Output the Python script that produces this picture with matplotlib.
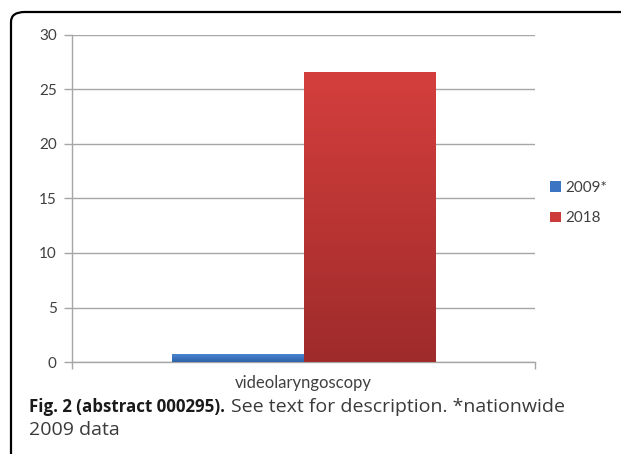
import numpy as np
import matplotlib
matplotlib.use("Agg")
import matplotlib.pyplot as plt
from matplotlib.patches import FancyBboxPatch
from matplotlib.colors import LinearSegmentedColormap

categories = ["videolaryngoscopy"]
series_names = ["2009*", "2018"]
values_2009 = [0.7]
values_2018 = [26.6]
yticks = [0, 5, 10, 15, 20, 25, 30]

W, H = 621, 454
fig = plt.figure(figsize=(W / 100, H / 100), dpi=100)
fig.patch.set_facecolor("white")

# outer frame with rounded top-left corner
frame = FancyBboxPatch((11 / W, -0.2), 1.2, 1.2 - 12 / H,
                       boxstyle="round,pad=0,rounding_size=0.022",
                       transform=fig.transFigure, fill=False,
                       edgecolor="black", linewidth=1.6, clip_on=False)
fig.patches.append(frame)

ax = fig.add_axes([72 / W, 92 / H, (535 - 72) / W, (362 - 35) / H])

bw = 0.285
x = np.arange(len(categories))
b1 = ax.bar(x - bw / 2, values_2009, width=bw, color="#3b74c2", zorder=3, linewidth=0)
b2 = ax.bar(x + bw / 2, values_2018, width=bw, color="#cc3b39", zorder=3, linewidth=0)

# vertical gradients on bars
grad_specs = [(b1, ["#4a84d0", "#2f62a8"]), (b2, ["#d43f3d", "#9f2b2b"])]
for bars, cols in grad_specs:
    cmap = LinearSegmentedColormap.from_list("g", [cols[1], cols[0]])
    for rect in bars:
        x0, y0 = rect.get_x(), rect.get_y()
        w, h = rect.get_width(), rect.get_height()
        img = np.linspace(0, 1, 256).reshape(-1, 1)
        im = ax.imshow(img, cmap=cmap, aspect="auto", origin="lower",
                       extent=[x0, x0 + w, y0, y0 + h], zorder=3.5)
        im.set_clip_path(rect)

ax.set_xlim(-0.5, 0.5)
ax.set_ylim(0, 30)

ax.set_yticks(yticks)
ax.set_yticklabels([str(v) for v in yticks], fontsize=11, color="#404040", family="Lato")
ax.yaxis.grid(True, color="#a6a6a6", linewidth=1.0, zorder=0)
ax.set_axisbelow(True)
ax.tick_params(axis="y", length=6, width=1.0, color="#a6a6a6", pad=5)

ax.set_xticks([-0.5, 0.5])
ax.set_xticklabels(["", ""])
ax.tick_params(axis="x", length=5, width=1.0, color="#a6a6a6", direction="out")
fig.text(0.5 * (72 + 535) / W, 1 - 383 / H, categories[0],
         ha="center", va="center", fontsize=12, color="#404040", family="Lato")

for s in ["top", "right"]:
    ax.spines[s].set_visible(False)
for s in ["left", "bottom"]:
    ax.spines[s].set_color("#a6a6a6")
    ax.spines[s].set_linewidth(1.0)

# legend
leg = fig.legend([b1, b2], series_names, loc="center left",
                 bbox_to_anchor=(550 / W, 1 - 203 / H), bbox_transform=fig.transFigure,
                 frameon=False, handlelength=0.7, handleheight=0.7, handletextpad=0.3,
                 labelspacing=1.1, borderpad=0, borderaxespad=0,
                 prop={"family": "Lato", "size": 11})
for t in leg.get_texts():
    t.set_color("#404040")

# caption
y1 = 1 - 407 / H
y2 = 1 - 430 / H
tb = fig.text(29 / W, y1, "Fig. 2 (abstract 000295).", fontsize=12.2,
              fontweight="bold", family="Open Sans", va="center", ha="left", color="#1a1a1a")
fig.canvas.draw()
bb = tb.get_window_extent()
fig.text((bb.x1 + 6) / W, y1, "See text for description. *nationwide", fontsize=14,
         family="Open Sans", va="center", ha="left", color="#3a3a3a")
fig.text(29 / W, y2, "2009 data", fontsize=14,
         family="Open Sans", va="center", ha="left", color="#3a3a3a")

fig.savefig("out.png", dpi=100)
